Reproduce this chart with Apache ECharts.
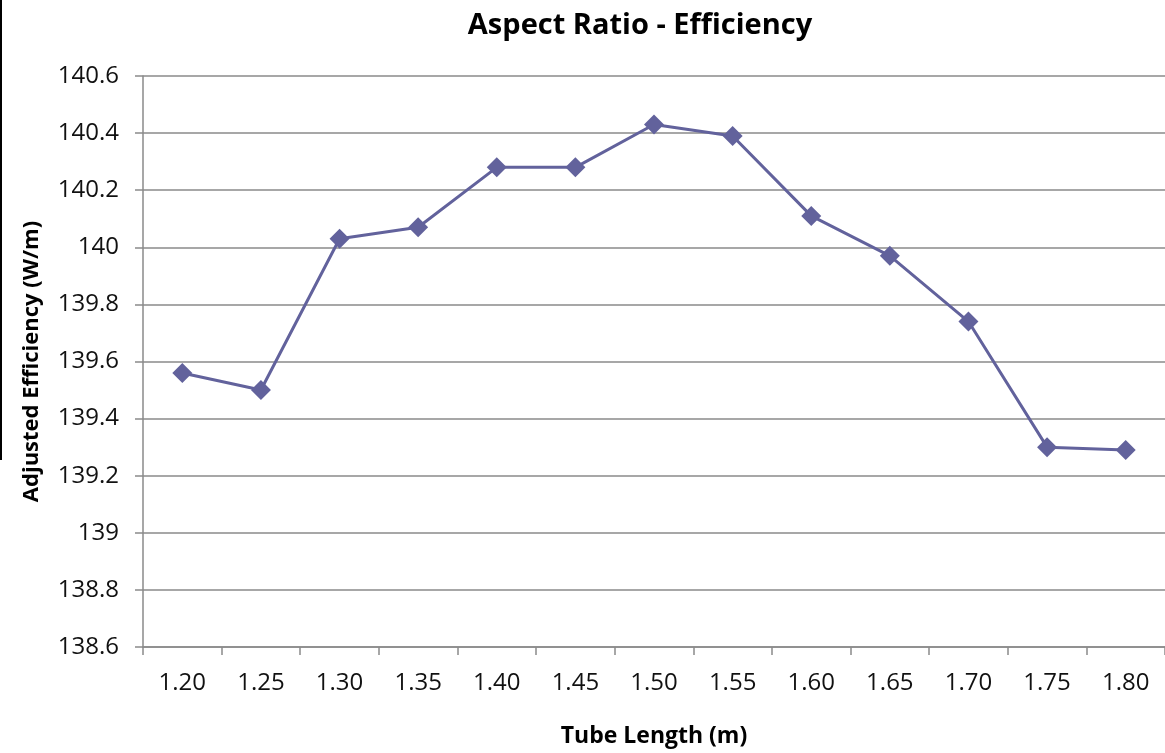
<!DOCTYPE html>
<html>
<head>
<meta charset="utf-8">
<script src="https://cdn.jsdelivr.net/npm/echarts@6/dist/echarts.min.js"></script>
<style>
  html, body { margin: 0; padding: 0; background: #fff; }
  #chart { width: 1165px; height: 753px; }
</style>
</head>
<body>
<div id="chart"></div>
<script>
// Tube lengths (m) along the x axis
const tubeLengths = ['1.20', '1.25', '1.30', '1.35', '1.40', '1.45', '1.50', '1.55', '1.60', '1.65', '1.70', '1.75', '1.80'];
// Adjusted efficiency (W/m) for each tube length
const efficiency = [139.56, 139.50, 140.03, 140.07, 140.28, 140.28, 140.43, 140.39, 140.11, 139.97, 139.74, 139.30, 139.29];

const yMin = 138.6, yMax = 140.6, yStep = 0.2;
const font = '"Open Sans", "Liberation Sans", sans-serif';
const gridGray = '#8a8a8a';

const chart = echarts.init(document.getElementById('chart'), null, { renderer: 'canvas' });
chart.setOption({
  backgroundColor: '#ffffff',
  animation: false,
  title: {
    text: 'Aspect Ratio - Efficiency',
    left: 635,
    top: 6,
    textAlign: 'center',
    textStyle: { fontFamily: font, fontWeight: 'bold', fontSize: 29, color: '#000' }
  },
  graphic: [{
    type: 'line',
    shape: { x1: 1, y1: 0, x2: 1, y2: 460 },
    style: { stroke: '#000', lineWidth: 2 }
  }],
  grid: { left: 143, top: 76, right: 0, bottom: 102, containLabel: false },
  xAxis: {
    type: 'category',
    data: tubeLengths,
    boundaryGap: true,
    name: 'Tube Length (m)',
    nameLocation: 'middle',
    nameGap: 78,
    nameTextStyle: { fontFamily: font, fontWeight: 'bold', fontSize: 23, color: '#000' },
    axisLine: { lineStyle: { color: gridGray, width: 1.5 } },
    axisTick: { show: true, length: 8, alignWithLabel: false, lineStyle: { color: gridGray, width: 1.5 } },
    axisLabel: { fontFamily: font, fontSize: 24, color: '#111', margin: 24 }
  },
  yAxis: {
    type: 'value',
    min: yMin,
    max: yMax,
    interval: yStep,
    name: 'Adjusted Efficiency (W/m)',
    nameLocation: 'middle',
    nameGap: 100,
    nameRotate: 90,
    nameTextStyle: { fontFamily: font, fontWeight: 'bold', fontSize: 22, color: '#000' },
    axisLine: { show: true, lineStyle: { color: gridGray, width: 1.5 } },
    axisTick: { show: true, length: 8, lineStyle: { color: gridGray, width: 1.5 } },
    splitLine: { show: true, lineStyle: { color: gridGray, width: 1.5 } },
    axisLabel: {
      fontFamily: font, fontSize: 24, color: '#111', margin: 24,
      formatter: v => String(parseFloat(v.toFixed(1)))
    }
  },
  series: [{
    type: 'line',
    data: efficiency,
    symbol: 'diamond',
    symbolSize: 20,
    lineStyle: { color: '#62629c', width: 3 },
    itemStyle: { color: '#62629c' },
    z: 3
  }]
});
</script>
</body>
</html>
